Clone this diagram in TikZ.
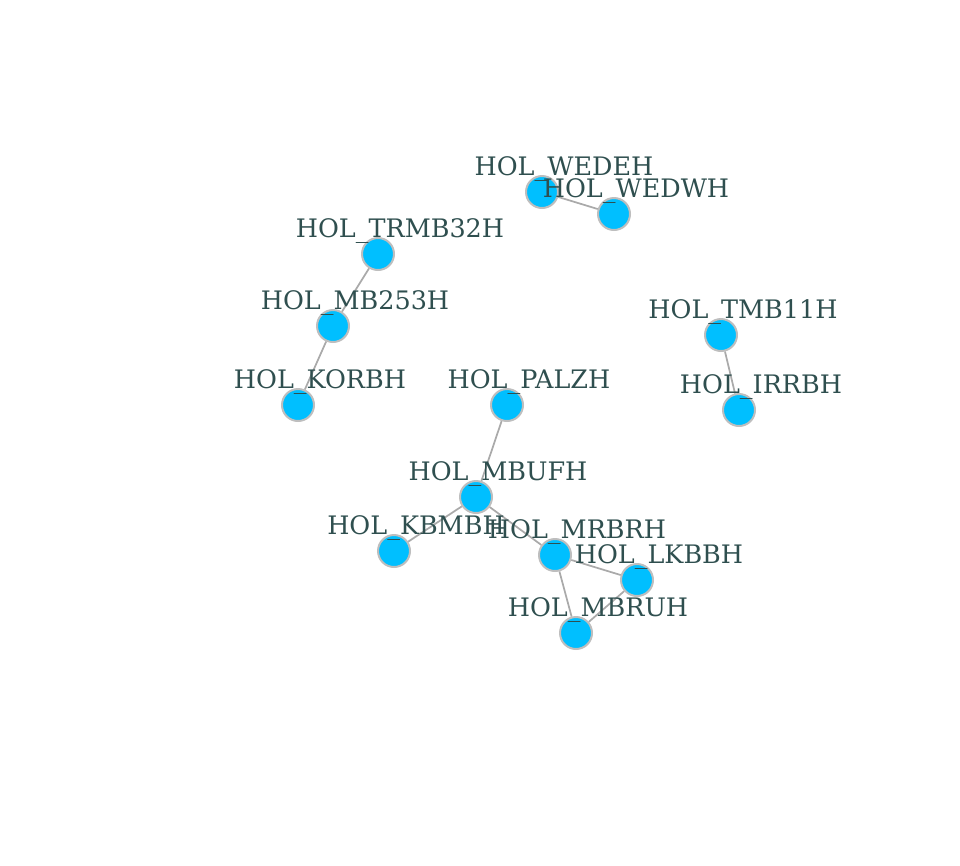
\documentclass[tikz,border=0pt]{standalone}
\usepackage{fontspec}
\setmainfont{DejaVu Serif}
\usetikzlibrary{calc}

\definecolor{vcolor}{HTML}{00BFFF}
\definecolor{vframe}{HTML}{BEBEBE}
\definecolor{ecolor}{HTML}{AAAAAA}
\definecolor{lcolor}{HTML}{2F4F4F}

\begin{document}
\begin{tikzpicture}[x=0.75pt,y=-0.75pt,
		vertex/.style={circle,fill=vcolor,draw=vframe,line width=1.5pt,minimum size=24pt,inner sep=0pt},
		edge/.style={ecolor,line width=1.3pt},
		lbl/.style={text=lcolor,font=\fontsize{19.1}{22}\selectfont,anchor=base,inner sep=0pt}]
	\useasboundingbox (0,0) rectangle (960,865);
	% vertices
	\node[vertex] (wedeh) at (542,192) {};
	\node[vertex] (wedwh) at (614,214) {};
	\node[vertex] (trmb) at (378,254) {};
	\node[vertex] (mbtf) at (333,326) {};
	\node[vertex] (korbh) at (298,405) {};
	\node[vertex] (palzh) at (507,405) {};
	\node[vertex] (tmb) at (721,335) {};
	\node[vertex] (irrbh) at (739,410) {};
	\node[vertex] (mbufh) at (476,497) {};
	\node[vertex] (kbmbh) at (394,551) {};
	\node[vertex] (mrbrh) at (555,555) {};
	\node[vertex] (lkbbh) at (637,580) {};
	\node[vertex] (mbruh) at (576,633) {};
	% edges
	\draw[edge] (wedeh) -- (wedwh);
	\draw[edge] (trmb) -- (mbtf);
	\draw[edge] (mbtf) -- (korbh);
	\draw[edge] (tmb) -- (irrbh);
	\draw[edge] (palzh) -- (mbufh);
	\draw[edge] (mbufh) -- (kbmbh);
	\draw[edge] (mbufh) -- (mrbrh);
	\draw[edge] (mrbrh) -- (lkbbh);
	\draw[edge] (mrbrh) -- (mbruh);
	\draw[edge] (lkbbh) -- (mbruh);
	% labels
	\foreach \v/\t in {wedeh/WEDEH,wedwh/WEDWH,trmb/TRMB32H,mbtf/MB253H,korbh/KORBH,
		palzh/PALZH,tmb/TMB11H,irrbh/IRRBH,mbufh/MBUFH,kbmbh/KBMBH,mrbrh/MRBRH,
		lkbbh/LKBBH,mbruh/MBRUH}
		\node[lbl] (l-\v) at ($(\v)+(22,-16.5)$) {HOL\_\t};
\end{tikzpicture}
\end{document}
